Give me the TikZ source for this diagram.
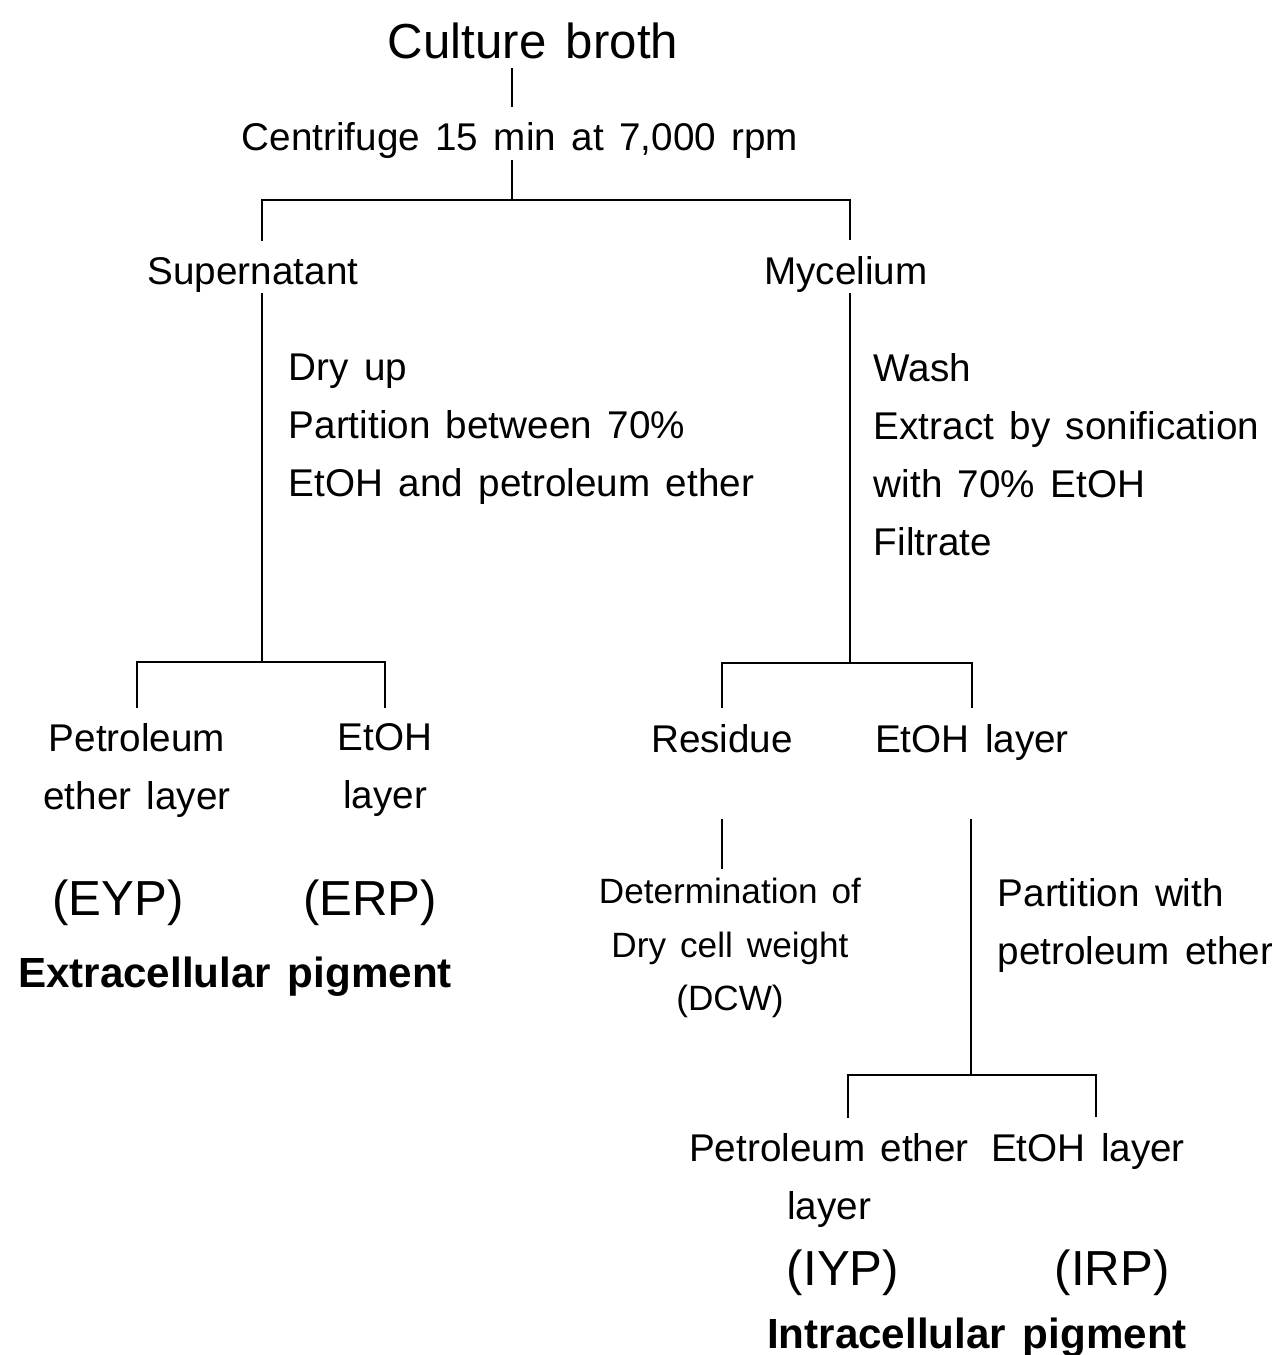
\documentclass[tikz,border=0pt]{standalone}
\usepackage{fontspec}
\setmainfont{Liberation Sans}
\usetikzlibrary{positioning}
\newcommand{\widesp}{\spaceskip=.4em\relax}

\begin{document}
\begin{tikzpicture}[x=0.02cm, y=-0.02cm, line width=0.9pt]
    \tikzstyle{txt} = [inner sep=0pt, anchor=base, font=\fontsize{22}{33}\selectfont\widesp]
    \tikzstyle{big} = [inner sep=0pt, anchor=base, font=\fontsize{28}{33}\selectfont\widesp]
    \tikzstyle{stack} = [inner sep=0pt, anchor=north, align=center, font=\fontsize{22}{33}\selectfont\widesp]
    \tikzstyle{note} = [inner sep=0pt, anchor=north west, align=left, font=\fontsize{22}{33}\selectfont\widesp]
    \tikzstyle{pigment} = [inner sep=0pt, anchor=base, font=\fontsize{24}{30}\bfseries\selectfont\widesp]
    \tikzstyle{line} = [draw, black]
    \tikzstyle{bracket} = [line, shorten <=0.3cm, shorten >=0.3cm]

    \useasboundingbox (0,0) rectangle (1271,1355);

    % top
    \node [big] (broth) at (533,59) {Culture broth};
    \node [txt] (centri) at (520,151) {Centrifuge 15 min at 7,000 rpm};
    \node [txt] (super) at (253,284) {Supernatant};
    \node [txt] (myc) at (846,284) {Mycelium};

    \coordinate (cJoin) at (512,200);
    \coordinate (cL) at (262,200);
    \coordinate (cR) at (850,200);

    \path [line, shorten <=0.16cm, shorten >=0.3cm] (broth.south -| cJoin) -- (centri.north -| cJoin);
    \path [line] (centri.south -| cJoin) -- (cJoin);
    \path [bracket] (super.north -| cL) -- (cL) -- (cR) -- (myc.north -| cR);

    % extracellular side
    \node [note] (dry) at (288,353) {Dry up\\Partition between 70\%\\EtOH and petroleum ether};
    \node [stack] (petrolA) at (137,723) {Petroleum\\ether layer};
    \node [stack] (etohA) at (385,723) {EtOH\\layer};
    \node [big] (eyp) at (118,915) {(EYP)};
    \node [big] (erp) at (370,915) {(ERP)};
    \node [pigment] (extra) at (235,987) {Extracellular pigment};

    \coordinate (sJoin) at (262,662);
    \path [line] (super.south -| sJoin) -- (sJoin);
    \path [bracket] (petrolA.north) |- (sJoin) -| (etohA.north);

    % intracellular side
    \node [note] (wash) at (873,353) {Wash\\Extract by sonification\\with 70\% EtOH\\Filtrate};
    \node [txt] (resid) at (722,752) {Residue};
    \node [txt] (etohB) at (972,752) {EtOH layer};
    \node [stack, font=\fontsize{20}{30.6}\selectfont\widesp] (dcw) at (730,877) {Determination of\\Dry cell weight\\(DCW)};
    \node [note] (part) at (997,878) {Partition with\\petroleum ether};

    \coordinate (mJoin) at (850,663);
    \path [line] (myc.south -| mJoin) -- (mJoin);
    \path [bracket] (resid.north) |- (mJoin) -| (etohB.north);
    \path [line, shorten <=1.32cm, shorten >=0.16cm] (resid.south) -- (resid.south |- dcw.north);

    \node [stack] (petrolB) at (829,1133) {Petroleum ether\\layer};
    \node [txt] (etohC) at (1088,1161) {EtOH layer};
    \node [big] (iyp) at (843,1285) {(IYP)};
    \node [big] (irp) at (1112,1285) {(IRP)};
    \node [pigment] (intra) at (977,1348) {Intracellular pigment};

    \coordinate (iJoin) at (971,1075);
    \coordinate (iL) at (848,1075);
    \coordinate (iR) at (1096,1075);
    \path [line, shorten <=1.16cm] (etohB.south -| iJoin) -- (iJoin);
    \path [bracket] (petrolB.north -| iL) |- (iJoin) -| (etohC.north -| iR);
\end{tikzpicture}
\end{document}
